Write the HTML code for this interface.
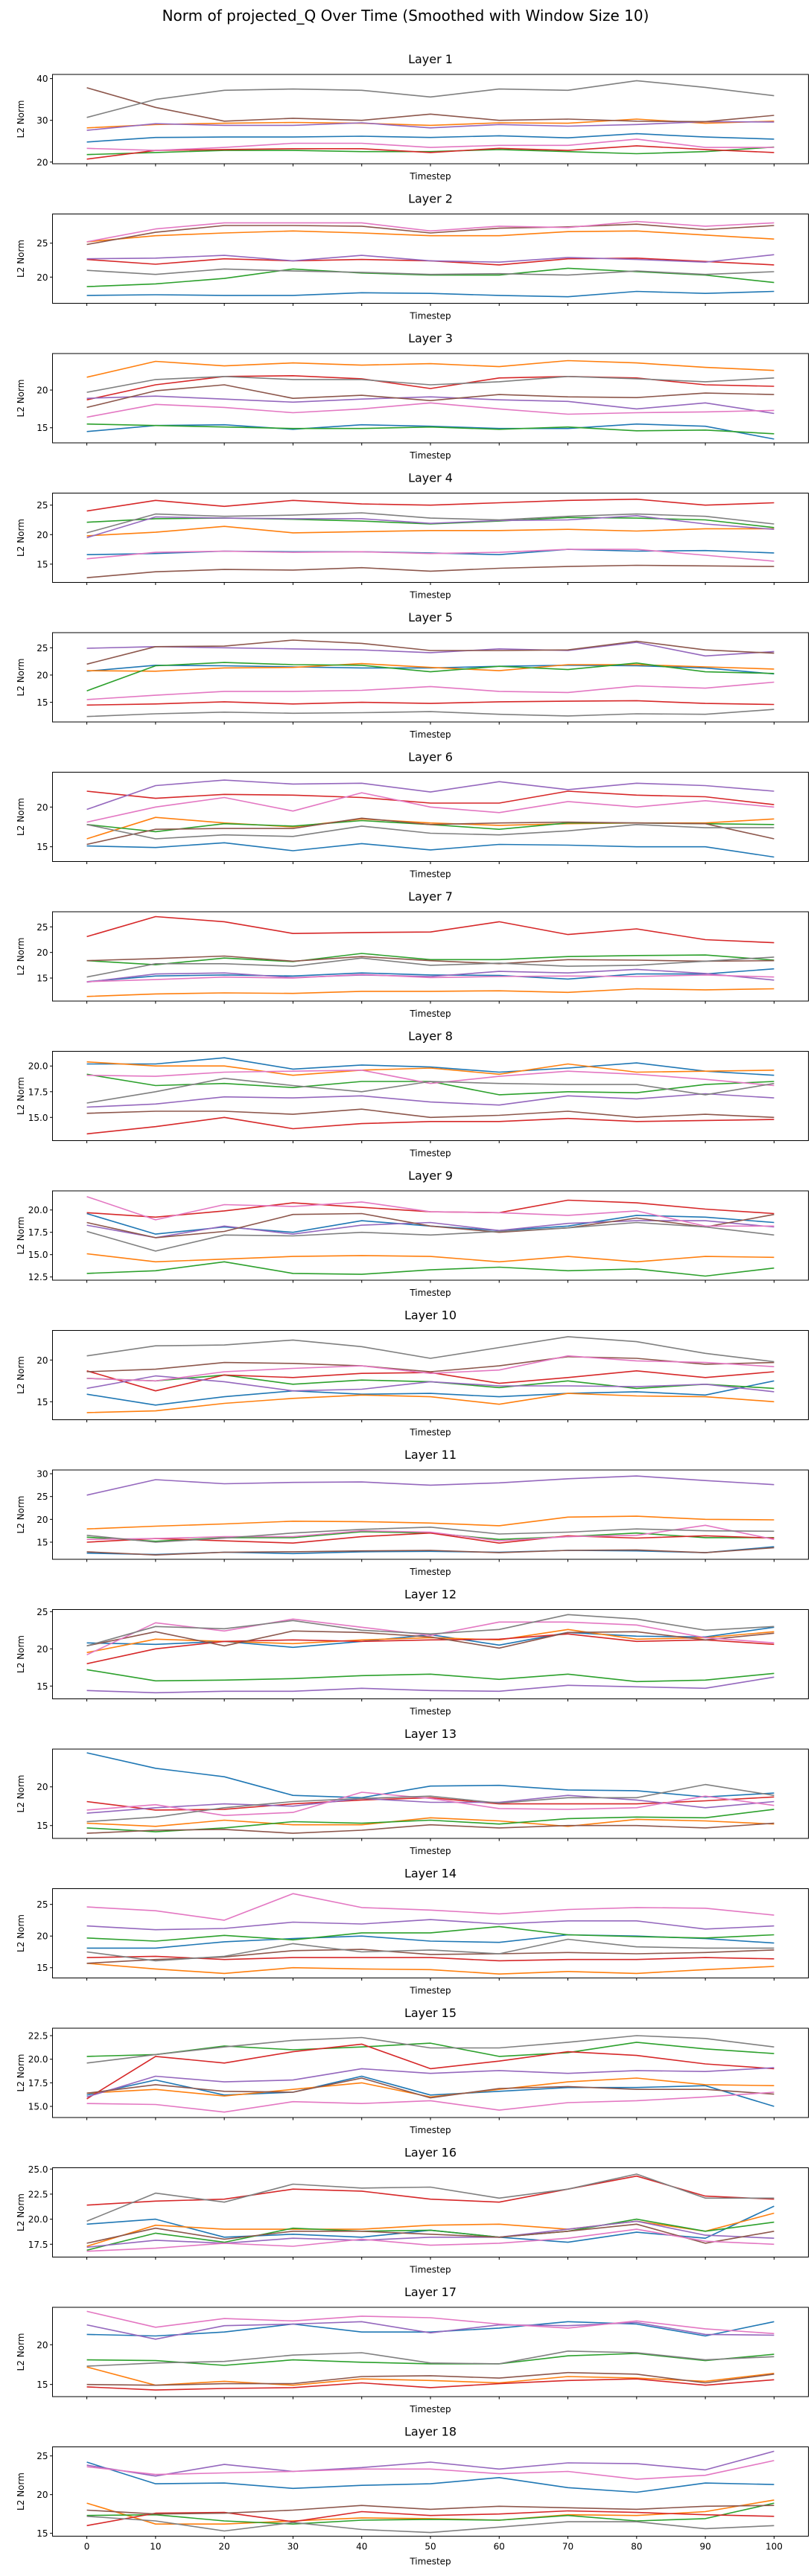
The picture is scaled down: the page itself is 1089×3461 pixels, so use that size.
<!DOCTYPE html>
<html><head><meta charset="utf-8"><title>Norm of projected_Q Over Time</title>
<style>
html,body{margin:0;padding:0;background:#fff;}
svg{display:block;font-family:"DejaVu Sans","Liberation Sans",sans-serif;}
</style></head>
<body>
<svg id="fig" width="1089" height="3461" viewBox="0 0 1089 3461" xmlns="http://www.w3.org/2000/svg">
<rect width="1089" height="3461" fill="#fff"/>
<text x="544.5" y="28" text-anchor="middle" font-size="20">Norm of projected_Q Over Time (Smoothed with Window Size 10)</text>
</svg>
<script>
const timesteps = [0,10,20,30,40,50,60,70,80,90,100];
const xTickLabels = ["0","10","20","30","40","50","60","70","80","90","100"];
const seriesColors = ["#1f77b4","#ff7f0e","#2ca02c","#d62728","#9467bd","#8c564b","#e377c2","#7f7f7f"];
const seriesNames = ["blue","orange","green","red","purple","brown","pink","gray"];

const layer1 = [[24.8,25.9,26.0,26.0,26.2,25.9,26.3,25.8,26.8,26.0,25.5],[28.2,29.0,29.3,29.5,29.3,28.8,29.4,29.3,30.3,29.3,29.8],[21.8,22.3,22.8,22.8,22.5,22.5,23.0,22.5,22.0,22.5,23.6],[20.7,22.8,23.0,23.2,23.2,22.3,23.3,22.8,23.9,23.0,22.3],[27.6,29.2,28.8,28.8,29.4,28.2,29.0,28.6,29.0,29.7,29.6],[37.8,33.1,29.8,30.5,30.0,31.5,30.0,30.3,29.8,29.7,31.2],[23.3,22.8,23.5,24.5,24.5,23.5,24.0,24.0,25.5,23.5,23.5],[30.7,35.0,37.2,37.5,37.2,35.6,37.5,37.2,39.5,37.9,35.9]];
const layer2 = [[17.3,17.4,17.3,17.3,17.7,17.6,17.3,17.1,17.9,17.6,17.9],[25.2,26.1,26.5,26.8,26.5,26.1,26.1,26.7,26.8,26.2,25.6],[18.6,19.0,19.8,21.2,20.6,20.3,20.3,21.3,20.8,20.3,19.2],[22.6,21.9,22.7,22.4,22.6,22.4,21.8,22.7,22.8,22.3,21.8],[22.7,22.8,23.2,22.4,23.2,22.4,22.2,22.9,22.6,22.2,23.3],[24.8,26.6,27.6,27.6,27.5,26.5,27.2,27.4,27.8,27.0,27.6],[25.2,27.1,28.0,28.0,28.0,26.8,27.5,27.3,28.2,27.5,28.0],[21.0,20.4,21.2,20.9,20.7,20.4,20.5,20.3,20.9,20.4,20.8]];
const layer3 = [[14.5,15.3,15.4,14.8,15.4,15.2,14.9,14.9,15.5,15.2,13.5],[21.7,23.8,23.2,23.6,23.3,23.5,23.1,23.9,23.6,23.0,22.6],[15.5,15.3,15.1,14.9,14.9,15.1,14.8,15.1,14.6,14.7,14.2],[18.7,20.7,21.8,21.9,21.5,20.2,21.6,21.8,21.6,20.7,20.5],[18.9,19.2,18.8,18.4,18.8,19.1,18.7,18.5,17.5,18.3,16.9],[17.7,19.9,20.7,18.9,19.3,18.6,19.4,19.1,19.0,19.6,19.4],[16.4,18.1,17.7,17.0,17.5,18.3,17.5,16.8,17.0,17.1,17.3],[19.7,21.4,21.8,21.4,21.4,20.7,21.1,21.8,21.5,21.1,21.6]];
const layer4 = [[16.6,16.8,17.2,17.1,17.1,16.9,16.6,17.5,17.2,17.3,16.9],[19.8,20.4,21.4,20.3,20.5,20.7,20.7,20.9,20.6,21.0,21.0],[22.1,22.7,22.8,22.6,22.3,21.8,22.3,22.9,22.8,22.5,21.2],[24.0,25.8,24.8,25.8,25.2,25.0,25.4,25.8,26.0,25.0,25.4],[19.5,23.0,22.8,22.7,22.7,21.9,22.4,22.5,23.2,21.8,20.9],[12.7,13.7,14.1,14.0,14.4,13.8,14.3,14.6,14.8,14.7,14.6],[15.9,17.0,17.2,17.0,17.1,16.8,17.0,17.5,17.5,16.5,15.5],[20.3,23.5,23.1,23.3,23.7,22.8,22.5,23.1,23.5,23.1,21.8]];
const layer5 = [[20.7,21.8,21.7,21.5,21.3,21.3,21.6,21.8,21.7,21.3,20.2],[20.8,20.7,21.3,21.4,22.1,21.4,20.8,21.9,21.9,21.5,21.1],[17.1,21.7,22.3,21.9,21.8,20.6,21.6,21.0,22.2,20.6,20.3],[14.5,14.7,15.1,14.7,15.0,14.8,15.1,15.2,15.3,14.8,14.6],[24.9,25.2,25.0,24.8,24.6,24.1,24.8,24.5,26.0,23.5,24.3],[22.0,25.2,25.3,26.4,25.8,24.5,24.5,24.6,26.2,24.6,24.0],[15.5,16.3,17.0,17.0,17.2,17.9,17.0,16.8,18.0,17.6,18.7],[12.4,12.9,13.2,13.0,13.1,13.3,12.8,12.5,12.9,12.8,13.7]];
const layer6 = [[15.1,14.9,15.5,14.5,15.4,14.6,15.3,15.2,15.0,15.0,13.7],[16.0,18.7,18.0,17.5,18.5,18.0,17.7,17.9,18.0,18.0,18.5],[17.8,16.9,17.9,17.6,18.3,17.8,17.2,18.0,18.0,17.9,17.8],[22.0,21.1,21.6,21.5,21.2,20.5,20.5,22.0,21.5,21.3,20.3],[19.7,22.7,23.4,22.9,23.0,21.9,23.2,22.2,23.0,22.7,22.0],[15.3,17.2,17.3,17.3,18.6,17.8,18.0,18.1,18.0,17.9,16.0],[18.1,20.0,21.2,19.5,21.8,20.0,19.3,20.7,20.0,20.8,20.0],[17.8,16.0,16.5,16.3,17.6,16.7,16.5,17.0,17.8,17.4,17.4]];
const layer7 = [[14.3,15.4,15.6,15.4,16.0,15.6,15.5,14.8,15.8,15.8,16.8],[11.4,11.9,12.1,12.0,12.4,12.4,12.5,12.2,12.9,12.7,12.9],[18.4,17.6,18.9,18.2,19.8,18.6,18.6,19.2,19.4,19.5,18.5],[23.1,27.0,26.0,23.7,23.9,24.0,26.0,23.5,24.6,22.5,21.9],[14.2,15.8,16.0,15.1,15.6,15.3,16.3,16.0,16.7,15.9,14.6],[18.4,18.8,19.3,18.3,19.2,18.4,17.8,18.6,18.5,18.3,18.4],[14.3,14.7,15.2,15.0,15.7,15.1,15.3,15.4,15.3,15.6,15.2],[15.2,17.8,17.8,17.3,18.9,17.5,17.9,17.3,17.5,18.3,19.1]];
const layer8 = [[20.2,20.2,20.8,19.7,20.1,19.9,19.4,19.8,20.3,19.5,19.1],[20.4,20.0,20.0,19.1,19.6,19.8,19.2,20.2,19.4,19.5,19.6],[19.2,18.1,18.3,17.9,18.5,18.5,17.2,17.5,17.4,18.2,18.5],[13.4,14.1,15.0,13.9,14.4,14.6,14.6,14.9,14.6,14.7,14.8],[16.0,16.3,17.0,16.9,17.1,16.5,16.2,17.1,16.8,17.3,16.9],[15.4,15.6,15.6,15.3,15.8,15.0,15.2,15.6,15.0,15.3,15.0],[19.1,19.0,19.4,19.5,19.6,18.3,19.0,19.5,19.2,18.7,18.1],[16.4,17.5,18.8,18.1,17.5,18.5,18.3,18.2,18.2,17.2,18.3]];
const layer9 = [[19.6,17.3,18.1,17.5,18.8,18.2,17.7,18.2,19.4,19.2,18.6],[15.1,14.2,14.5,14.8,14.9,14.8,14.2,14.8,14.2,14.8,14.7],[12.9,13.2,14.2,12.9,12.8,13.3,13.6,13.2,13.4,12.6,13.5],[19.7,19.2,19.9,20.8,20.3,19.8,19.7,21.1,20.8,20.1,19.6],[18.3,16.9,18.2,17.3,18.3,18.6,17.7,18.5,18.8,18.8,18.1],[18.6,16.9,17.6,19.5,19.6,18.2,17.5,18.0,19.1,18.1,19.5],[21.5,18.9,20.6,20.4,20.9,19.8,19.7,19.4,19.9,18.2,18.2],[17.6,15.4,17.2,17.1,17.5,17.2,17.6,18.0,18.6,18.1,17.2]];
const layer10 = [[15.9,14.6,15.6,16.3,15.9,16.0,15.6,16.0,16.2,15.8,17.5],[13.7,13.9,14.8,15.4,15.8,15.6,14.7,16.0,15.7,15.6,15.0],[17.8,17.5,18.2,17.1,17.6,17.4,16.7,17.5,16.6,17.1,16.6],[18.7,16.3,18.2,17.9,18.4,18.5,17.2,17.9,18.7,17.9,18.6],[16.6,18.1,17.4,16.3,16.5,17.4,16.9,16.9,16.8,17.1,16.2],[18.6,18.9,19.7,19.6,19.3,18.6,19.3,20.4,20.2,19.5,19.7],[17.8,17.5,18.6,19.0,19.3,18.4,18.8,20.5,19.9,19.7,19.2],[20.5,21.7,21.8,22.4,21.6,20.2,21.5,22.8,22.2,20.8,19.8]];
const layer11 = [[12.6,12.3,12.8,12.5,12.9,13.0,12.8,13.2,13.1,12.7,14.0],[17.9,18.5,19.0,19.6,19.5,19.2,18.6,20.5,20.7,20.0,19.9],[16.1,15.2,16.0,16.0,17.3,17.0,15.6,16.2,17.0,16.0,16.0],[15.0,15.8,15.3,14.8,16.2,17.0,14.8,16.4,15.9,16.4,15.9],[25.3,28.7,27.8,28.1,28.2,27.5,28.0,28.9,29.5,28.5,27.6],[12.9,12.2,12.8,12.9,13.1,13.2,12.7,13.2,13.3,12.7,13.8],[15.6,15.8,16.2,16.2,17.5,17.2,15.3,16.2,16.5,18.7,15.6],[16.5,15.0,15.9,17.0,17.8,18.3,16.8,17.2,17.9,17.5,17.4]];
const layer12 = [[20.8,20.6,21.0,20.2,21.0,21.9,20.5,22.2,21.7,21.6,22.9],[19.5,21.3,21.0,20.7,21.2,21.5,21.2,22.6,21.3,21.5,22.3],[17.2,15.7,15.8,16.0,16.4,16.6,15.9,16.6,15.6,15.8,16.7],[18.0,20.0,21.0,21.2,21.0,21.2,21.3,22.0,21.0,21.2,20.6],[14.4,14.1,14.3,14.3,14.7,14.4,14.3,15.1,14.9,14.7,16.2],[20.4,22.3,20.4,22.4,22.2,21.6,20.1,22.2,22.3,21.2,22.1],[19.2,23.5,22.4,24.0,22.9,21.8,23.6,23.6,23.2,21.5,20.8],[20.4,23.0,22.7,23.8,22.5,22.0,22.6,24.6,24.0,22.5,23.0]];
const layer13 = [[24.4,22.4,21.3,18.9,18.6,20.1,20.2,19.6,19.5,18.7,19.2],[15.3,14.9,15.7,15.1,15.1,16.0,15.6,14.9,15.8,15.6,15.2],[14.7,14.2,14.7,15.5,15.3,15.7,15.2,15.9,16.1,16.0,17.1],[18.1,17.0,17.1,17.8,18.3,18.6,17.8,17.8,17.8,18.2,18.7],[16.6,17.3,17.8,17.5,18.5,18.0,18.0,18.9,18.3,17.3,18.1],[14.0,14.4,14.5,14.0,14.4,15.1,14.7,15.0,15.0,14.7,15.3],[17.0,17.7,16.3,16.7,19.3,18.5,17.2,17.1,17.3,18.8,17.6],[15.5,16.1,17.3,18.1,18.5,18.8,17.9,18.6,18.6,20.3,18.9]];
const layer14 = [[18.1,18.1,19.1,19.6,20.0,19.2,19.0,20.2,20.0,19.6,18.9],[15.7,14.8,14.1,15.0,14.8,14.7,14.0,14.4,14.1,14.7,15.2],[19.7,19.2,20.1,19.4,20.5,20.5,21.5,20.2,19.9,19.7,20.2],[16.6,16.8,16.3,16.6,16.6,16.6,16.1,16.3,16.3,16.6,16.4],[21.6,21.0,21.2,22.2,21.9,22.6,21.9,22.4,22.4,21.1,21.6],[15.7,16.3,16.7,17.7,17.9,17.1,17.2,17.4,17.2,17.4,17.8],[24.6,24.0,22.5,26.7,24.5,24.1,23.5,24.2,24.5,24.4,23.3],[17.5,16.1,16.8,18.8,17.5,17.8,17.2,19.5,18.3,18.1,18.1]];
const layer15 = [[16.2,17.8,16.2,16.5,18.2,16.2,16.6,17.0,17.0,17.2,15.0],[16.4,16.8,16.1,16.8,17.5,16.0,16.8,17.6,18.0,17.3,17.2],[20.3,20.5,21.4,21.0,21.3,21.7,20.3,20.7,21.8,21.1,20.6],[15.8,20.3,19.6,20.8,21.6,19.0,19.8,20.8,20.4,19.5,19.0],[16.0,18.2,17.6,17.8,19.0,18.5,18.8,18.5,18.8,18.7,19.1],[16.4,17.3,16.6,16.5,18.0,15.9,16.9,17.1,16.8,16.8,16.3],[15.3,15.2,14.4,15.5,15.3,15.6,14.6,15.4,15.6,16.0,16.5],[19.6,20.5,21.3,22.0,22.3,21.2,21.2,21.8,22.5,22.2,21.3]];
const layer16 = [[19.5,20.0,18.2,18.5,18.2,18.9,18.2,17.7,18.7,18.1,21.3],[17.3,19.4,19.0,19.0,19.0,19.4,19.5,19.0,19.8,18.8,20.6],[16.9,18.6,17.7,19.1,18.8,18.9,18.2,18.8,20.0,18.8,19.7],[21.4,21.8,22.0,23.0,22.8,22.0,21.7,23.0,24.3,22.3,22.0],[17.2,17.9,17.6,18.1,17.9,18.2,18.2,19.0,19.8,18.4,18.1],[17.6,19.1,18.0,18.8,18.8,18.5,18.2,18.8,19.5,17.6,18.8],[16.8,17.1,17.6,17.3,18.0,17.4,17.6,18.1,19.0,17.8,17.5],[19.8,22.6,21.7,23.5,23.1,23.2,22.1,23.0,24.5,22.1,22.1]];
const layer17 = [[21.3,21.1,21.6,22.6,21.6,21.6,22.1,22.9,22.6,21.1,22.9],[17.2,14.9,15.4,14.9,15.7,15.5,15.2,16.0,15.8,15.4,16.4],[18.1,18.0,17.4,18.1,17.8,17.6,17.6,18.6,18.9,18.0,18.8],[14.7,14.3,14.5,14.6,15.2,14.6,15.1,15.5,15.7,14.9,15.6],[22.5,20.7,22.4,22.6,22.9,21.5,22.5,22.4,22.8,21.3,21.2],[15.0,14.9,15.1,15.1,16.0,16.1,15.8,16.5,16.3,15.2,16.3],[24.2,22.2,23.3,23.0,23.6,23.4,22.6,22.1,23.0,22.0,21.4],[17.3,17.7,17.9,18.7,19.0,17.7,17.6,19.2,19.0,18.1,18.5]];
const layer18 = [[24.2,21.4,21.5,20.8,21.2,21.4,22.2,20.9,20.3,21.5,21.3],[18.9,16.2,16.2,16.6,17.0,16.9,16.7,17.4,17.3,17.8,19.3],[17.3,17.4,16.6,16.2,16.7,16.8,16.7,17.3,16.6,16.9,18.9],[16.0,17.6,17.7,16.5,17.8,17.3,17.5,17.9,17.7,17.4,17.2],[23.8,22.4,23.9,23.0,23.5,24.2,23.3,24.1,24.0,23.2,25.6],[18.0,17.5,17.6,18.0,18.6,18.1,18.5,18.3,18.1,18.5,18.6],[23.6,22.6,22.8,23.0,23.3,23.3,22.7,23.0,22.0,22.5,24.4],[17.2,16.6,15.3,16.4,15.5,15.1,15.8,16.5,16.5,15.6,16.0]];

const yTicks = [[20,30,40],[20,25],[15,20],[15,20,25],[15,20,25],[15,20],[15,20,25],[15,17.5,20],[12.5,15,17.5,20],[15,20],[15,20,25,30],[15,20,25],[15,20],[15,20,25],[15,17.5,20,22.5],[17.5,20,22.5,25],[15,20],[15,20,25]];
const yTickLabels = [["20","30","40"],["20","25"],["15","20"],["15","20","25"],["15","20","25"],["15","20"],["15","20","25"],["15.0","17.5","20.0"],["12.5","15.0","17.5","20.0"],["15","20"],["15","20","25","30"],["15","20","25"],["15","20"],["15","20","25"],["15.0","17.5","20.0","22.5"],["17.5","20.0","22.5","25.0"],["15","20"],["15","20","25"]];
const yMin = [19.6,16.14,13.0,11.9,11.4,13.14,10.5,12.74,12.14,12.84,11.25,13.28,13.34,13.38,13.82,16.22,13.47,14.63];
const yMax = [41.0,29.3,24.84,27.04,27.77,24.39,27.95,21.43,22.14,23.55,30.82,25.28,24.88,27.49,23.29,25.13,24.71,26.17];

const layers = [layer1,layer2,layer3,layer4,layer5,layer6,layer7,layer8,layer9,layer10,layer11,layer12,layer13,layer14,layer15,layer16,layer17,layer18];

const NS = "http://www.w3.org/2000/svg";
const svg = document.getElementById("fig");
const AX_L = 70.5, AX_R = 1085.5, AX_H = 120, TOP0 = 100, PITCH = 187.5;
const X0 = 116.6, X100 = 1039.4;
function xScale(t){ return X0 + (t - 0) * (X100 - X0) / 100; }
function mk(tag, attrs){ const e = document.createElementNS(NS, tag); for (const k in attrs) e.setAttribute(k, attrs[k]); return e; }

layers.forEach(function(series, li){
  const top = TOP0 + PITCH * li, bot = top + AX_H;
  const yS = function(v){ return bot - (v - yMin[li]) * AX_H / (yMax[li] - yMin[li]); };
  const g = mk("g", {});
  
  
  svg.appendChild(g);

  const title = mk("text", {x: (AX_L+AX_R)/2, y: top - 15, "text-anchor": "middle", "font-size": "16"});
  
  
  title.textContent = "Layer " + (li+1);
  g.appendChild(title);

  // series lines
  series.forEach(function(vals, si){
    const pts = vals.map(function(v, i){ return xScale(timesteps[i]).toFixed(1) + "," + yS(v).toFixed(1); }).join(" ");
    const pl = mk("polyline", {points: pts, fill: "none", stroke: seriesColors[si], "stroke-width": "1.6", "stroke-linejoin": "round"});
    
    
    g.appendChild(pl);
  });

  const frame = mk("rect", {x: AX_L, y: top, width: AX_R - AX_L, height: AX_H, fill: "none", stroke: "#000", "stroke-width": "1"});
  
  
  g.appendChild(frame);

  // y ticks
  yTicks[li].forEach(function(v, ti){
    const y = yS(v);
    const tk = mk("line", {x1: AX_L - 3.5, x2: AX_L, y1: y, y2: y, stroke: "#000", "stroke-width": "1"});
    
    
    g.appendChild(tk);
    const tl = mk("text", {x: AX_L - 6, y: y + 4.5, "text-anchor": "end", "font-size": "12"});
    
    
    tl.textContent = yTickLabels[li][ti];
    g.appendChild(tl);
  });

  // x ticks
  timesteps.forEach(function(t, ti){
    const x = xScale(t);
    const tk = mk("line", {x1: x, x2: x, y1: bot, y2: bot + 3.5, stroke: "#000", "stroke-width": "1"});
    
    
    g.appendChild(tk);
    if (li === layers.length - 1) {
      const tl = mk("text", {x: x, y: bot + 18, "text-anchor": "middle", "font-size": "12"});
      
      
      tl.textContent = xTickLabels[ti];
      g.appendChild(tl);
    }
  });

  const xl = mk("text", {x: (AX_L+AX_R)/2, y: bot + (li === layers.length - 1 ? 38 : 21), "text-anchor": "middle", "font-size": "12"});
  
  
  xl.textContent = "Timestep";
  g.appendChild(xl);

  const cy = top + AX_H/2;
  const yl = mk("text", {x: 28, y: cy, "text-anchor": "middle", "font-size": "12", transform: "rotate(-90 28 " + cy + ") translate(0 4)"});
  
  
  yl.textContent = "L2 Norm";
  g.appendChild(yl);
});
</script>
</body></html>
